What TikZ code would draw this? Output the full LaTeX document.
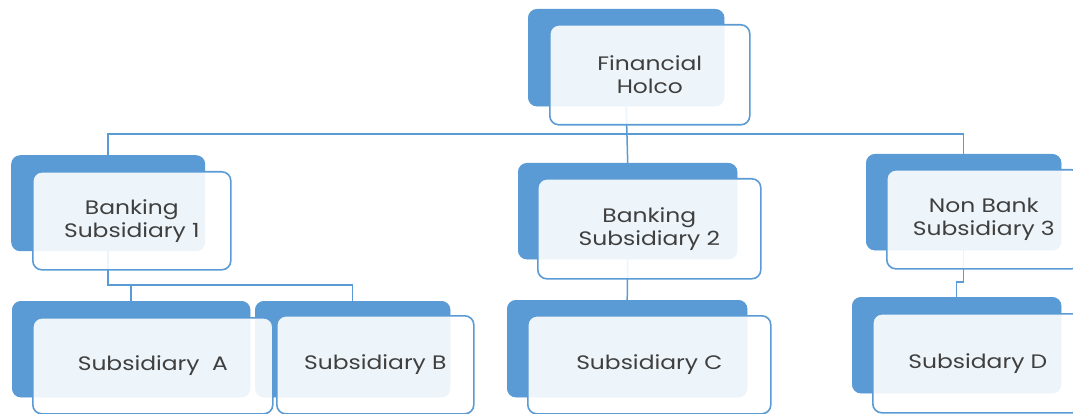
\documentclass[tikz,border=0pt]{standalone}
\usepackage{fontspec}
\setmainfont[FakeStretch=1.2]{Poppins}
\definecolor{blueC}{HTML}{5B9BD5}
\definecolor{txtC}{HTML}{3F3F3F}
\begin{document}
\begin{tikzpicture}[x=1pt,y=-1pt,
  back/.style={fill=blueC, rounded corners=9pt, anchor=north west, inner sep=0pt},
  front/.style={draw=blueC, line width=1.6pt, fill=white, fill opacity=0.9, text opacity=1,
     rounded corners=9pt, anchor=north west, inner sep=0pt, text=txtC,
     font=\fontsize{19.5}{23}\selectfont, align=center},
  conn/.style={draw=blueC, line width=1.5pt}]
\useasboundingbox (0,0) rectangle (1073,414);
\clip (0,0) rectangle (1073,414);
% back boxes
\node[back, minimum width=196, minimum height=97] (hb) at (528,9) {};
\node[back, minimum width=194, minimum height=96] (ab) at (11,155) {};
\node[back, minimum width=219, minimum height=96] (bb) at (518,163) {};
\node[back, minimum width=195, minimum height=96] (cb) at (866,154) {};
\node[back, minimum width=238, minimum height=96] (sab) at (12,301) {};
\node[back, minimum width=195, minimum height=96] (sbb) at (255,301) {};
\node[back, minimum width=240, minimum height=97] (scb) at (507,300) {};
\node[back, minimum width=209, minimum height=96] (sdb) at (852,297) {};
% connectors
\coordinate (bus) at (0,134);
\coordinate (busA) at (0,285);
\coordinate (jogD) at (0,282);
\draw[conn] (hb.south) -- (bb.north);
\draw[conn] (ab.north) -- (ab.north |- bus) -- (cb.north |- bus) -- (cb.north);
\draw[conn] (ab.south) -- (ab.south |- busA) -- (sbb.north |- busA) -- (sbb.north);
\draw[conn] (sab.north) -- (sab.north |- busA);
\draw[conn] (bb.south) -- (scb.north);
\draw[conn] (cb.south) -- (cb.south |- jogD) -- (sdb.north |- jogD) -- (sdb.north);
% redraw back boxes above connectors
\fill[blueC, rounded corners=9pt] (hb.north west) rectangle (hb.south east);
\fill[blueC, rounded corners=9pt] (bb.north west) rectangle (bb.south east);
\fill[blueC, rounded corners=9pt] (cb.north west) rectangle (cb.south east);
\fill[blueC, rounded corners=9pt] (sab.north west) rectangle (sab.south east);
\fill[blueC, rounded corners=9pt] (sbb.north west) rectangle (sbb.south east);
\fill[blueC, rounded corners=9pt] (scb.north west) rectangle (scb.south east);
\fill[blueC, rounded corners=9pt] (sdb.north west) rectangle (sdb.south east);
% front boxes
\node[front, minimum width=200, minimum height=100] (hf) at (549,24) {Financial\\Holco};
\node[front, minimum width=198, minimum height=98] (af) at (32,171) {Banking\\Subsidiary 1};
\node[front, minimum width=223, minimum height=100] (bf) at (537,178) {Banking\\Subsidiary 2};
\node[front, minimum width=194, minimum height=99] (cf) at (886,169) {Non Bank\\Subsidiary 3};
\node[front, minimum width=240, minimum height=96] (saf) at (32,317) {Subsidiary~~A};
\node[front, minimum width=197, minimum height=98] (sbf) at (276,315) {Subsidiary B};
\node[front, minimum width=243, minimum height=98] (scf) at (527,315) {Subsidiary C};
\node[front, minimum width=210, minimum height=99] (sdf) at (872,313) {Subsidary D};
\end{tikzpicture}
\end{document}
